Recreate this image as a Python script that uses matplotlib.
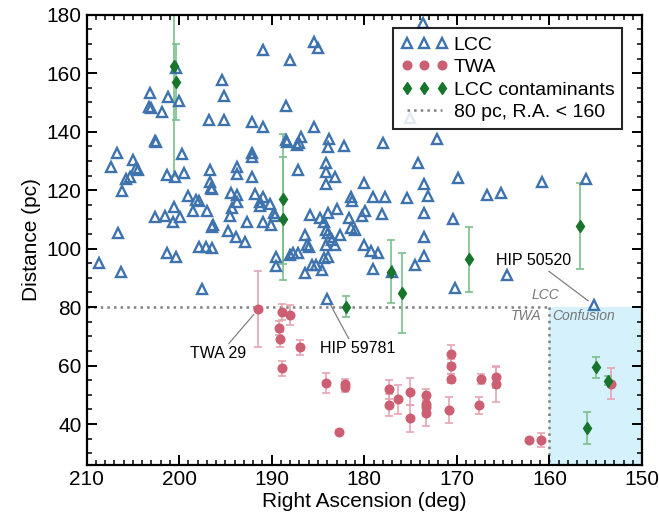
import numpy as np
import matplotlib
matplotlib.use("Agg")
import matplotlib.pyplot as plt
from matplotlib.ticker import MultipleLocator

plt.rcParams["font.family"] = ["Liberation Sans", "DejaVu Sans"]

# LCC members (R.A. deg, distance pc)
lcc_ra = [208.7, 206.3, 206.7, 207.4, 205.0, 204.7, 204.4, 205.7, 205.3, 206.2,
          206.6, 203.1, 203.2, 203.0, 201.9, 202.6, 202.5, 201.2, 200.0, 200.3,
          199.7, 201.3, 200.4, 199.5, 202.6, 201.5, 200.7, 199.9, 200.6, 201.3,
          200.3, 199.0, 198.2, 197.9, 198.5, 197.0, 196.7, 196.7, 196.6, 196.4,
          196.5, 196.3, 197.9, 197.1, 196.4, 197.5, 196.8, 195.4, 195.2, 195.2,
          193.8, 193.8, 194.4, 193.8, 193.8, 194.3, 194.5, 194.7, 193.9, 192.9,
          192.7, 192.1, 190.9, 190.9, 192.1, 192.1, 192.1, 191.8, 190.9, 191.3,
          191.3, 190.2, 189.8, 189.6, 190.9, 190.1, 188.0, 188.5, 188.5, 188.3,
          187.3, 187.1, 186.8, 187.2, 185.4, 185.4, 185.0, 189.5, 189.5, 188.0,
          187.7, 187.2, 186.4, 186.2, 186.0, 186.4, 185.9, 185.7, 185.2, 184.6,
          184.8, 184.4, 184.1, 183.9, 183.9, 183.0, 183.7, 183.5, 184.1, 183.2,
          182.6, 184.4, 183.9, 183.8, 183.9, 184.1, 184.1, 184.1, 183.2, 182.2,
          181.6, 181.4, 181.3, 181.4, 181.0, 184.0, 180.0, 179.1, 177.8, 179.9,
          180.2, 178.1, 180.0, 179.3, 178.5, 179.1, 178.0, 174.2, 173.5, 173.1,
          175.4, 173.5, 173.6, 173.6, 174.5, 172.15, 177.0, 173.7, 175.05, 169.85,
          160.8, 156.1, 166.8, 165.2, 170.45, 170.2, 164.6, 155.2]
lcc_dist = [95.0, 92.1, 132.6, 128.0, 130.3, 127.5, 126.9, 123.7, 124.4, 119.7,
            105.5, 153.1, 148.5, 148.0, 146.8, 136.9, 136.6, 152.0, 150.6, 161.7,
            132.4, 125.2, 124.6, 125.8, 110.7, 111.2, 109.2, 110.9, 114.2, 98.6,
            97.1, 118.0, 116.6, 116.3, 112.8, 112.8, 126.9, 122.9, 120.6, 120.3,
            107.5, 108.0, 100.7, 100.7, 100.1, 86.1, 144.0, 157.7, 152.2, 144.0,
            128.0, 125.5, 119.1, 118.4, 116.1, 113.8, 111.2, 106.2, 103.9, 102.4,
            109.2, 143.4, 141.5, 167.9, 132.6, 131.2, 124.4, 118.6, 117.8, 116.1,
            114.6, 115.3, 112.1, 111.2, 109.2, 108.1, 164.5, 148.9, 137.2, 136.6,
            135.5, 136.2, 138.1, 126.9, 141.7, 170.8, 168.5, 97.1, 94.1, 97.8,
            98.4, 98.6, 104.7, 101.3, 100.7, 91.6, 111.5, 94.4, 94.4, 92.7,
            110.4, 109.2, 106.4, 105.3, 112.1, 113.5, 104.1, 103.0, 101.3, 101.3,
            104.7, 96.7, 97.1, 137.4, 134.9, 129.4, 126.3, 122.1, 124.6, 135.1,
            110.4, 117.8, 116.3, 107.0, 106.4, 82.8, 122.6, 117.8, 117.6, 112.7,
            111.0, 111.7, 101.4, 99.3, 98.6, 93.1, 136.0, 129.4, 122.2, 118.0,
            117.2, 112.1, 104.1, 97.5, 94.3, 137.4, 92.1, 177.3, 144.6, 124.1,
            122.9, 123.7, 118.4, 119.0, 110.0, 86.5, 91.0, 80.7]

# TWA members
twa_ra = [191.45, 188.85, 188.0, 189.2, 189.1, 188.9, 186.9, 184.1, 182.1, 182.1,
          182.7, 177.3, 177.3, 176.4, 175.1, 175.1, 173.3, 173.3, 173.3, 173.3,
          170.6, 170.6, 170.6, 170.8, 167.4, 167.6, 165.8, 165.8, 162.2, 160.9,
          153.4]
twa_dist = [79.3, 78.3, 77.3, 72.8, 69.0, 59.1, 66.2, 54.0, 53.7, 52.8,
            37.4, 51.9, 46.6, 48.5, 51.1, 42.0, 50.0, 46.9, 45.8, 43.7,
            64.0, 59.7, 55.5, 44.8, 55.5, 46.5, 56.2, 53.6, 34.4, 34.4,
            53.8]
twa_err = [13.0, 2.8, 3.3, 2.5, 2.5, 2.6, 2.7, 3.5, 1.7, 1.7,
           0.5, 3.2, 3.7, 5.0, 4.6, 4.6, 2.0, 2.5, 3.0, 4.5,
           3.0, 2.5, 1.5, 4.6, 1.7, 2.9, 3.7, 5.9, 0.5, 2.4,
           5.3]

# LCC contaminants
con_ra = [200.5, 200.3, 188.75, 188.75, 182.0, 177.1, 175.9, 168.7, 156.7, 155.0, 153.65, 155.9]
con_dist = [162.5, 157.1, 117.0, 110.2, 80.2, 92.1, 84.8, 96.4, 107.8, 59.5, 54.9, 38.6]
con_err = [37.5, 13.0, 22.3, 21.0, 3.5, 10.8, 13.8, 11.1, 14.6, 3.6, 1.5, 5.5]

blue = "#3f73ad"
red = "#cc5f72"
red_err = "#e8a4b2"
green = "#17752c"
green_err = "#7cbf8c"

fig = plt.figure(figsize=(6.59, 5.16), dpi=100)
ax = fig.add_axes([0.1313, 0.0988, 0.843, 0.8727])

# confusion region
ax.axvspan(160, 150, ymin=0, ymax=(80 - 26) / (180 - 26), color="#d5f1fb", zorder=0, lw=0)
ax.plot([210, 160], [80, 80], ls=":", color="gray", lw=1.8, zorder=1,
        label="80 pc, R.A. < 160")
ax.plot([160, 160], [80, 26], ls=":", color="gray", lw=1.8, zorder=1)

ax.errorbar(twa_ra, twa_dist, yerr=twa_err, fmt="none", ecolor=red_err,
            elinewidth=1.2, capsize=3, capthick=1.2, zorder=2)
ax.errorbar(con_ra, con_dist, yerr=con_err, fmt="none", ecolor=green_err,
            elinewidth=1.2, capsize=3, capthick=1.2, zorder=2)

ax.plot(lcc_ra, lcc_dist, ls="none", marker="^", ms=7, mfc="none", mec=blue,
        mew=1.7, label="LCC", zorder=3)
ax.plot(twa_ra, twa_dist, ls="none", marker="o", ms=6.2, color=red, mec=red,
        label="TWA", zorder=4)
ax.plot(con_ra, con_dist, ls="none", marker="d", ms=6.5, color=green, mec=green,
        label="LCC contaminants", zorder=5)

ax.set_xlim(210, 150)
ax.set_ylim(26, 180)
ax.xaxis.set_major_locator(MultipleLocator(10))
ax.xaxis.set_minor_locator(MultipleLocator(1))
ax.yaxis.set_major_locator(MultipleLocator(20))
ax.yaxis.set_minor_locator(MultipleLocator(5))
ax.tick_params(which="both", direction="in", top=True, right=True, labelsize=15)
ax.tick_params(which="major", length=7, width=1.4)
ax.tick_params(which="minor", length=3.5, width=1.1)
for s in ax.spines.values():
    s.set_linewidth(1.6)

ax.set_xlabel("Right Ascension (deg)", fontsize=15, labelpad=2)
ax.set_ylabel("Distance (pc)", fontsize=15, labelpad=4)

arrow = dict(arrowstyle="-", color="gray", lw=0.9, shrinkA=0, shrinkB=5)
ax.annotate("TWA 29", xy=(191.45, 79.3), xytext=(195.8, 64.0), fontsize=11.5,
            ha="center", va="center",
            arrowprops=dict(arrow, relpos=(0.65, 1.0)))
ax.annotate("HIP 59781", xy=(184.0, 82.8), xytext=(180.7, 65.7), fontsize=11.5,
            ha="center", va="center",
            arrowprops=dict(arrow, relpos=(0.4, 1.0)))
ax.annotate("HIP 50520", xy=(155.2, 80.7), xytext=(161.7, 95.8), fontsize=11.5,
            ha="center", va="center",
            arrowprops=dict(arrow, relpos=(0.65, 0.0)))

ax.text(160.4, 84.2, "LCC", fontsize=10, style="italic", color="#777777",
        ha="center", va="center")
ax.text(162.5, 76.8, "TWA", fontsize=10, style="italic", color="#777777",
        ha="center", va="center")
ax.text(156.35, 76.8, "Confusion", fontsize=10, style="italic", color="#777777",
        ha="center", va="center")

handles, labels = ax.get_legend_handles_labels()
order = [1, 2, 3, 0]
leg = ax.legend([handles[i] for i in order], [labels[i] for i in order],
                loc="upper right", bbox_to_anchor=(0.964, 0.97), borderaxespad=0,
                numpoints=3, fontsize=14, handlelength=2.4, handletextpad=0.3,
                labelspacing=0.25, borderpad=0.4, fancybox=False,
                edgecolor="black", framealpha=0.85)
leg.get_frame().set_linewidth(1.5)

fig.savefig("out.png", dpi=100)
